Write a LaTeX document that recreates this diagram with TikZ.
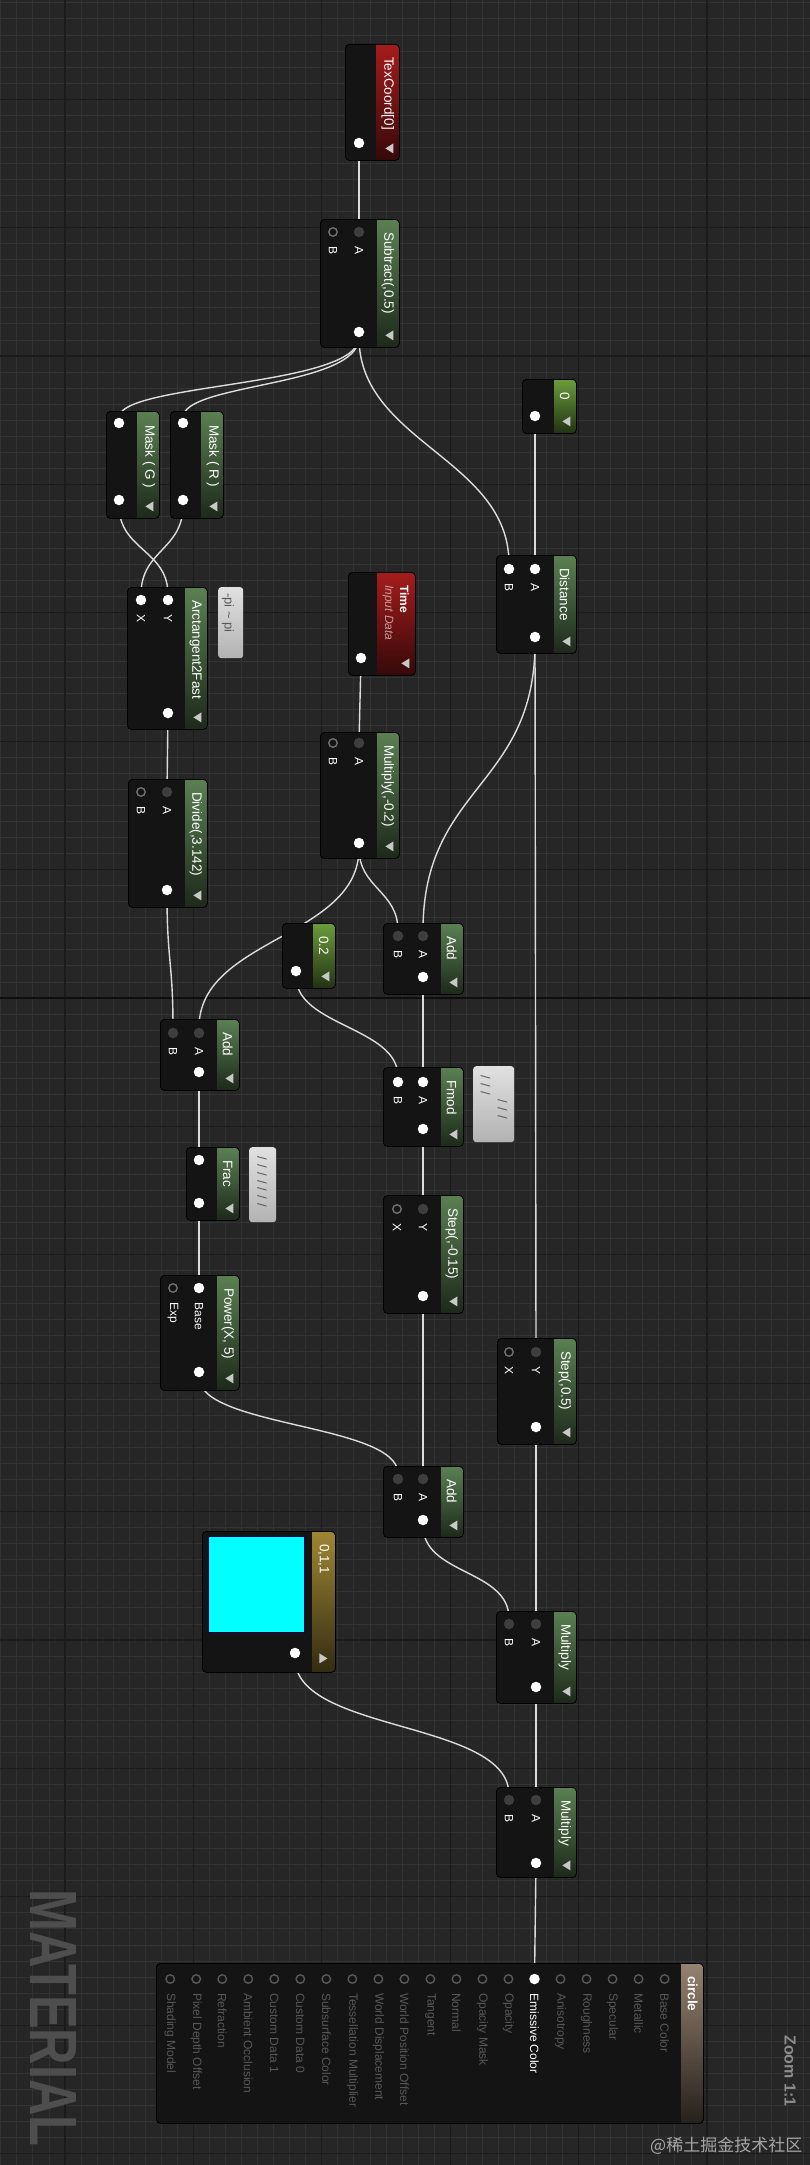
\documentclass[tikz,border=0pt]{standalone}
\usepackage{fontspec}
\setmainfont{Liberation Sans}
\newfontfamily\cjkfont{Noto Sans CJK SC}
\usetikzlibrary{positioning, calc}
\pgfdeclarelayer{back}
\pgfsetlayers{back,main}
\definecolor{canvas}{HTML}{262626}
\definecolor{gridminor}{HTML}{333333}
\definecolor{gridmajor}{HTML}{1B1B1B}
\definecolor{gridorigin}{HTML}{0E0E0E}
\definecolor{nodebody}{HTML}{141414}
\definecolor{hgreen}{HTML}{5A8052}
\definecolor{hconst}{HTML}{6A9C3B}
\definecolor{hred}{HTML}{A51C1C}
\definecolor{hgold}{HTML}{9E8733}
\definecolor{hresult}{HTML}{958270}
\definecolor{wirec}{HTML}{DCDCDC}
\definecolor{pinoffc}{HTML}{3E3E3E}
\definecolor{pinring}{HTML}{707070}
\definecolor{dimtxt}{HTML}{585858}
\definecolor{trigray}{HTML}{C8C8C8}
\definecolor{inputc}{HTML}{C89A9A}
\definecolor{wmgray}{HTML}{4E4E4E}
\definecolor{preview}{RGB}{0,255,255}

\begin{document}
\begin{tikzpicture}[x=1pt, y=-1pt, label distance=9pt,
    mat/.style={rectangle, rounded corners=4pt, fill=nodebody, draw=black, line width=0.8pt, inner sep=0pt, anchor=north west},
    hdr/.style 2 args={path picture={
        \shade[sharp corners, top color=#1, bottom color=#1!32!black] ([xshift=-#2]path picture bounding box.north east) rectangle (path picture bounding box.south east);
        \fill[sharp corners, trigray] ([shift={(-6pt,7pt)}]path picture bounding box.south east) -- ++(0pt,10pt) -- ++(-8pt,-5pt) -- cycle;}},
    hdrx/.style 2 args={path picture={
        \shade[sharp corners, top color=#1, bottom color=#1!25!black] ([xshift=-#2]path picture bounding box.north east) rectangle (path picture bounding box.south east);}},
    hdrc/.style 2 args={path picture={
        \shade[sharp corners, top color=#1, bottom color=#1!32!black] ([xshift=-#2]path picture bounding box.north east) rectangle (path picture bounding box.south east);
        \fill[sharp corners, trigray] ([shift={(-16pt,9pt)}]path picture bounding box.south east) -- ++(0pt,10pt) -- ++(8pt,-5pt) -- cycle;}},
    ttl/.style={rotate=-90, anchor=west, inner sep=0pt, text=white, font=\fontsize{13.5}{15}\selectfont},
    pinw/.style={circle, fill=white, inner sep=0pt, minimum size=10.5pt},
    pinoff/.style={circle, fill=pinoffc, inner sep=0pt, minimum size=10.5pt},
    pinh/.style={circle, draw=pinring, fill=black!92, line width=1.4pt, inner sep=0pt, minimum size=8.5pt},
    plbl/.style={inner sep=0pt, text=white, font=\fontsize{12}{14}\selectfont},
    pl/.style={label={[plbl]below:\rotatebox{-90}{#1}}},
    rpin/.style={pinh, draw=dimtxt, label={[plbl, text=dimtxt]below:\rotatebox{-90}{#1}}},
    rpinon/.style={pinw, pl=#1},
    cmt/.style={rectangle, rounded corners=3pt, top color=black!12, bottom color=black!30, inner sep=0pt, anchor=north west},
    cmttxt/.style={rotate=-90, anchor=west, inner sep=0pt, text=black!65, align=left, font=\fontsize{13}{17}\selectfont},
    wire/.style={draw=wirec, line width=1.4pt}
  ]
  \useasboundingbox (0,0) rectangle (810,2165);
  \begin{pgfonlayer}{back}
    \fill[canvas] (0,0) rectangle (810,2165);
    \foreach \gx in {0.8,16.85,...,810} \draw[gridminor, line width=0.9pt] (\gx,0) -- (\gx,2165);
    \foreach \gy in {2.9,18.95,...,2165} \draw[gridminor, line width=0.9pt] (0,\gy) -- (810,\gy);
    \foreach \gx in {65,193.4,...,810} \draw[gridmajor, line width=1.2pt] (\gx,0) -- (\gx,2165);
    \foreach \gy in {99.2,227.6,...,2165} \draw[gridmajor, line width=1.2pt] (0,\gy) -- (810,\gy);
    \draw[gridorigin, line width=1.8pt] (0,998) -- (810,998);
  \end{pgfonlayer}

  % top chain
  \node[mat, hdr={hred}{23pt}, minimum width=54pt, minimum height=116pt] (texc) at (345,44) {};
  \node[ttl] (texcT) at ([shift={(-12pt,-13pt)}]texc.north east) {TexCoord[0]};
  \node[pinw] (texcO) at (359,143) {};

  \node[mat, hdr={hgreen}{22pt}, minimum width=79pt, minimum height=128pt] (sub) at (320,219) {};
  \node[ttl] (subT) at ([shift={(-12pt,-13pt)}]sub.north east) {Subtract(,0.5)};
  \node[pinoff, pl=A] (subA) at (359,232) {};
  \node[pinh, pl=B] (subB) at (333,232) {};
  \node[pinw] (subO) at (359,332) {};

  \node[mat, hdr={hgreen}{22pt}, minimum width=53pt, minimum height=107pt] (maskg) at (106,411) {};
  \node[ttl] (maskgT) at ([shift={(-11pt,-14pt)}]maskg.north east) {Mask ( G )};
  \node[pinw] (maskgI) at (119,423) {};
  \node[pinw] (maskgO) at (119,500) {};

  \node[mat, hdr={hgreen}{22pt}, minimum width=53pt, minimum height=107pt] (maskr) at (170,411) {};
  \node[ttl] (maskrT) at ([shift={(-11pt,-14pt)}]maskr.north east) {Mask ( R )};
  \node[pinw] (maskrI) at (183,423) {};
  \node[pinw] (maskrO) at (183,500) {};

  \node[mat, hdr={hgreen}{22pt}, minimum width=80pt, minimum height=142pt] (atan) at (127,587) {};
  \node[ttl] (atanT) at ([shift={(-12pt,-13pt)}]atan.north east) {Arctangent2Fast};
  \node[pinw, pl=X] (atanX) at (141,600) {};
  \node[pinw, pl=Y] (atanY) at (168,600) {};
  \node[pinw] (atanO) at (168,713) {};
  \node[cmt, minimum width=25pt, minimum height=71pt] (atanC) at (218,587) {};
  \node[cmttxt] (atanCT) at (228,593) {-pi \textasciitilde{} pi};

  \node[mat, hdr={hgreen}{22pt}, minimum width=79pt, minimum height=128pt] (divd) at (128,779) {};
  \node[ttl] (divdT) at ([shift={(-12pt,-13pt)}]divd.north east) {Divide(,3.142)};
  \node[pinoff, pl=A] (divdA) at (167,792) {};
  \node[pinh, pl=B] (divdB) at (141,792) {};
  \node[pinw] (divdO) at (167,890) {};

  % time and distance
  \node[mat, hdr={hred}{38pt}, minimum width=67pt, minimum height=103pt] (time) at (348,572) {};
  \node[ttl, align=left, font=\fontsize{12}{15}\selectfont] (timeT) at ([shift={(-20pt,-13pt)}]time.north east) {\textbf{Time}\\\textcolor{inputc}{\itshape Input Data}};
  \node[pinw] (timeO) at (361,658) {};

  \node[mat, hdr={hgreen}{22pt}, minimum width=79pt, minimum height=126pt] (mul1) at (320,732) {};
  \node[ttl] (mul1T) at ([shift={(-12pt,-13pt)}]mul1.north east) {Multiply(,-0.2)};
  \node[pinoff, pl=A] (mul1A) at (359,743) {};
  \node[pinh, pl=B] (mul1B) at (333,743) {};
  \node[pinw] (mul1O) at (359,843) {};

  \node[mat, hdr={hconst}{22pt}, minimum width=54pt, minimum height=54pt] (zero) at (522,379) {};
  \node[ttl] (zeroT) at ([shift={(-12pt,-13pt)}]zero.north east) {0};
  \node[pinw] (zeroO) at (535,416) {};

  \node[mat, hdr={hgreen}{22pt}, minimum width=80pt, minimum height=98pt] (dist) at (496,555) {};
  \node[ttl] (distT) at ([shift={(-12pt,-13pt)}]dist.north east) {Distance};
  \node[pinw, pl=A] (distA) at (535,569) {};
  \node[pinw, pl=B] (distB) at (509,569) {};
  \node[pinw] (distO) at (535,637) {};

  % middle
  \node[mat, hdr={hconst}{22pt}, minimum width=53pt, minimum height=65pt] (cst2) at (282,923) {};
  \node[ttl] (cst2T) at ([shift={(-12pt,-13pt)}]cst2.north east) {0.2};
  \node[pinw] (cst2O) at (296,971) {};

  \node[mat, hdr={hgreen}{22pt}, minimum width=80pt, minimum height=71pt] (add1) at (383,923) {};
  \node[ttl] (add1T) at ([shift={(-12pt,-13pt)}]add1.north east) {Add};
  \node[pinoff, pl=A] (add1A) at (423,936) {};
  \node[pinoff, pl=B] (add1B) at (398,936) {};
  \node[pinw] (add1O) at (423,977) {};

  \node[mat, hdr={hgreen}{22pt}, minimum width=80pt, minimum height=79pt] (fmod) at (383,1067) {};
  \node[ttl] (fmodT) at ([shift={(-12pt,-13pt)}]fmod.north east) {Fmod};
  \node[pinw, pl=A] (fmodA) at (423,1082) {};
  \node[pinw, pl=B] (fmodB) at (398,1082) {};
  \node[pinw] (fmodO) at (423,1129) {};
  \node[cmt, minimum width=41pt, minimum height=76pt] (fmodC) at (473,1066) {};
  \node[cmttxt] (fmodCT) at (494,1075) {\hspace*{24pt}/\,\,/\,\,/\\/\,\,/\,\,/};

  \node[mat, hdr={hgreen}{22pt}, minimum width=79pt, minimum height=71pt] (add2) at (160,1019) {};
  \node[ttl] (add2T) at ([shift={(-12pt,-13pt)}]add2.north east) {Add};
  \node[pinoff, pl=A] (add2A) at (199,1033) {};
  \node[pinoff, pl=B] (add2B) at (173,1033) {};
  \node[pinw] (add2O) at (199,1072) {};

  \node[mat, hdr={hgreen}{22pt}, minimum width=53pt, minimum height=73pt] (frac) at (186,1147) {};
  \node[ttl] (fracT) at ([shift={(-12pt,-13pt)}]frac.north east) {Frac};
  \node[pinw] (fracI) at (199,1160) {};
  \node[pinw] (fracO) at (199,1203) {};
  \node[cmt, minimum width=27pt, minimum height=75pt] (fracC) at (249,1147) {};
  \node[cmttxt] (fracCT) at (262,1156) {/\,\,/\,\,/\,\,/\,\,/\,\,/\,\,/};

  \node[mat, hdr={hgreen}{22pt}, minimum width=79pt, minimum height=115pt] (powr) at (160,1275) {};
  \node[ttl] (powrT) at ([shift={(-12pt,-13pt)}]powr.north east) {Power(X, 5)};
  \node[pinw, pl=Base] (powrB) at (199,1288) {};
  \node[pinh, pl=Exp] (powrE) at (173,1288) {};
  \node[pinw] (powrO) at (199,1372) {};

  \node[mat, hdr={hgreen}{22pt}, minimum width=80pt, minimum height=118pt] (stp1) at (383,1195) {};
  \node[ttl] (stp1T) at ([shift={(-12pt,-13pt)}]stp1.north east) {Step(,-0.15)};
  \node[pinoff, pl=Y] (stp1Y) at (423,1209) {};
  \node[pinh, pl=X] (stp1X) at (397,1209) {};
  \node[pinw] (stp1O) at (423,1296) {};

  \node[mat, hdr={hgreen}{22pt}, minimum width=79pt, minimum height=106pt] (stp2) at (497,1338) {};
  \node[ttl] (stp2T) at ([shift={(-12pt,-13pt)}]stp2.north east) {Step(,0.5)};
  \node[pinoff, pl=Y] (stp2Y) at (536,1352) {};
  \node[pinh, pl=X] (stp2X) at (509,1352) {};
  \node[pinw] (stp2O) at (536,1427) {};

  % bottom
  \node[mat, hdr={hgreen}{22pt}, minimum width=80pt, minimum height=71pt] (add3) at (383,1466) {};
  \node[ttl] (add3T) at ([shift={(-12pt,-13pt)}]add3.north east) {Add};
  \node[pinoff, pl=A] (add3A) at (423,1479) {};
  \node[pinoff, pl=B] (add3B) at (398,1479) {};
  \node[pinw] (add3O) at (423,1520) {};

  \node[mat, hdrc={hgold}{23pt}, minimum width=133pt, minimum height=141pt] (col) at (202,1531) {};
  \node[ttl] (colT) at ([shift={(-12pt,-13pt)}]col.north east) {0,1,1};
  \node[fill=preview, draw=blue!30!black, line width=0.8pt, inner sep=0pt, minimum size=96pt, anchor=north west] (colP) at (208,1536) {};
  \node[pinw] (colO) at (295,1653) {};

  \node[mat, hdr={hgreen}{22pt}, minimum width=80pt, minimum height=92pt] (mul2) at (496,1611) {};
  \node[ttl] (mul2T) at ([shift={(-12pt,-13pt)}]mul2.north east) {Multiply};
  \node[pinoff, pl=A] (mul2A) at (536,1624) {};
  \node[pinoff, pl=B] (mul2B) at (509,1624) {};
  \node[pinw] (mul2O) at (536,1687) {};

  \node[mat, hdr={hgreen}{22pt}, minimum width=80pt, minimum height=90pt] (mul3) at (496,1787) {};
  \node[ttl] (mul3T) at ([shift={(-12pt,-13pt)}]mul3.north east) {Multiply};
  \node[pinoff, pl=A] (mul3A) at (536,1800) {};
  \node[pinoff, pl=B] (mul3B) at (509,1800) {};
  \node[pinw] (mul3O) at (536,1863) {};

  \node[mat, hdrx={hresult}{22pt}, minimum width=547pt, minimum height=160pt] (res) at (156,1963) {};
  \node[ttl, font=\bfseries\fontsize{13.5}{15}\selectfont] (resT) at ([shift={(-11pt,-13pt)}]res.north east) {circle};
  \foreach \lbl/\pst [count=\i from 0] in {Base Color/rpin, Metallic/rpin, Specular/rpin, Roughness/rpin, Anisotropy/rpin, Emissive Color/rpinon, Opacity/rpin, Opacity Mask/rpin, Normal/rpin, Tangent/rpin, World Position Offset/rpin, World Displacement/rpin, Tessellation Multiplier/rpin, Subsurface Color/rpin, Custom Data 0/rpin, Custom Data 1/rpin, Ambient Occlusion/rpin, Refraction/rpin, Pixel Depth Offset/rpin, Shading Model/rpin}
    \node[\pst=\lbl] (res-\i) at (664.6-26.02*\i,1979) {};

  \node[rotate=-90, inner sep=0pt, text=wmgray] (matlbl) at (54,2018) {\resizebox{257pt}{46pt}{\bfseries MATERIAL}};
  \node[rotate=-90, anchor=west, inner sep=0pt, text=black!45, font=\bfseries\fontsize{16}{18}\selectfont] (zoomlbl) at (790,2035) {Zoom 1:1};
  \node[anchor=west, inner sep=0pt, text=black!35, font=\cjkfont\fontsize{17}{19}\selectfont] (wmark) at (650,2146) {@稀土掘金技术社区};

  % connections
  \begin{pgfonlayer}{back}
    \draw[wire] (texcO) -- (subA);
    \draw[wire] (subO) .. controls +(0,55) and +(0,-40) .. (maskgI);
    \draw[wire] (subO) .. controls +(0,55) and +(0,-40) .. (maskrI);
    \draw[wire] (subO) .. controls +(0,110) and +(0,-110) .. (distB);
    \draw[wire] (zeroO) -- (distA);
    \draw[wire] (maskgO) .. controls +(0,50) and +(0,-50) .. (atanY);
    \draw[wire] (maskrO) .. controls +(0,50) and +(0,-50) .. (atanX);
    \draw[wire] (atanO) -- (divdA);
    \draw[wire] (divdO) .. controls +(0,70) and +(0,-70) .. (add2B);
    \draw[wire] (timeO) -- (mul1A);
    \draw[wire] (mul1O) .. controls +(0,45) and +(0,-45) .. (add1B);
    \draw[wire] (mul1O) .. controls +(0,95) and +(0,-95) .. (add2A);
    \draw[wire] (distO) .. controls +(0,150) and +(0,-150) .. (add1A);
    \draw[wire] (distO) -- (stp2Y);
    \draw[wire] (cst2O) .. controls +(0,55) and +(0,-55) .. (fmodB);
    \draw[wire] (add1O) -- (fmodA);
    \draw[wire] (fmodO) -- (stp1Y);
    \draw[wire] (add2O) -- (fracI);
    \draw[wire] (fracO) -- (powrB);
    \draw[wire] (powrO) .. controls +(0,55) and +(0,-55) .. (add3B);
    \draw[wire] (stp1O) -- (add3A);
    \draw[wire] (stp2O) -- (mul2A);
    \draw[wire] (add3O) .. controls +(0,55) and +(0,-55) .. (mul2B);
    \draw[wire] (mul2O) -- (mul3A);
    \draw[wire] (colO) .. controls +(0,80) and +(0,-80) .. (mul3B);
    \draw[wire] (mul3O) -- (res-5);
  \end{pgfonlayer}
\end{tikzpicture}
\end{document}
